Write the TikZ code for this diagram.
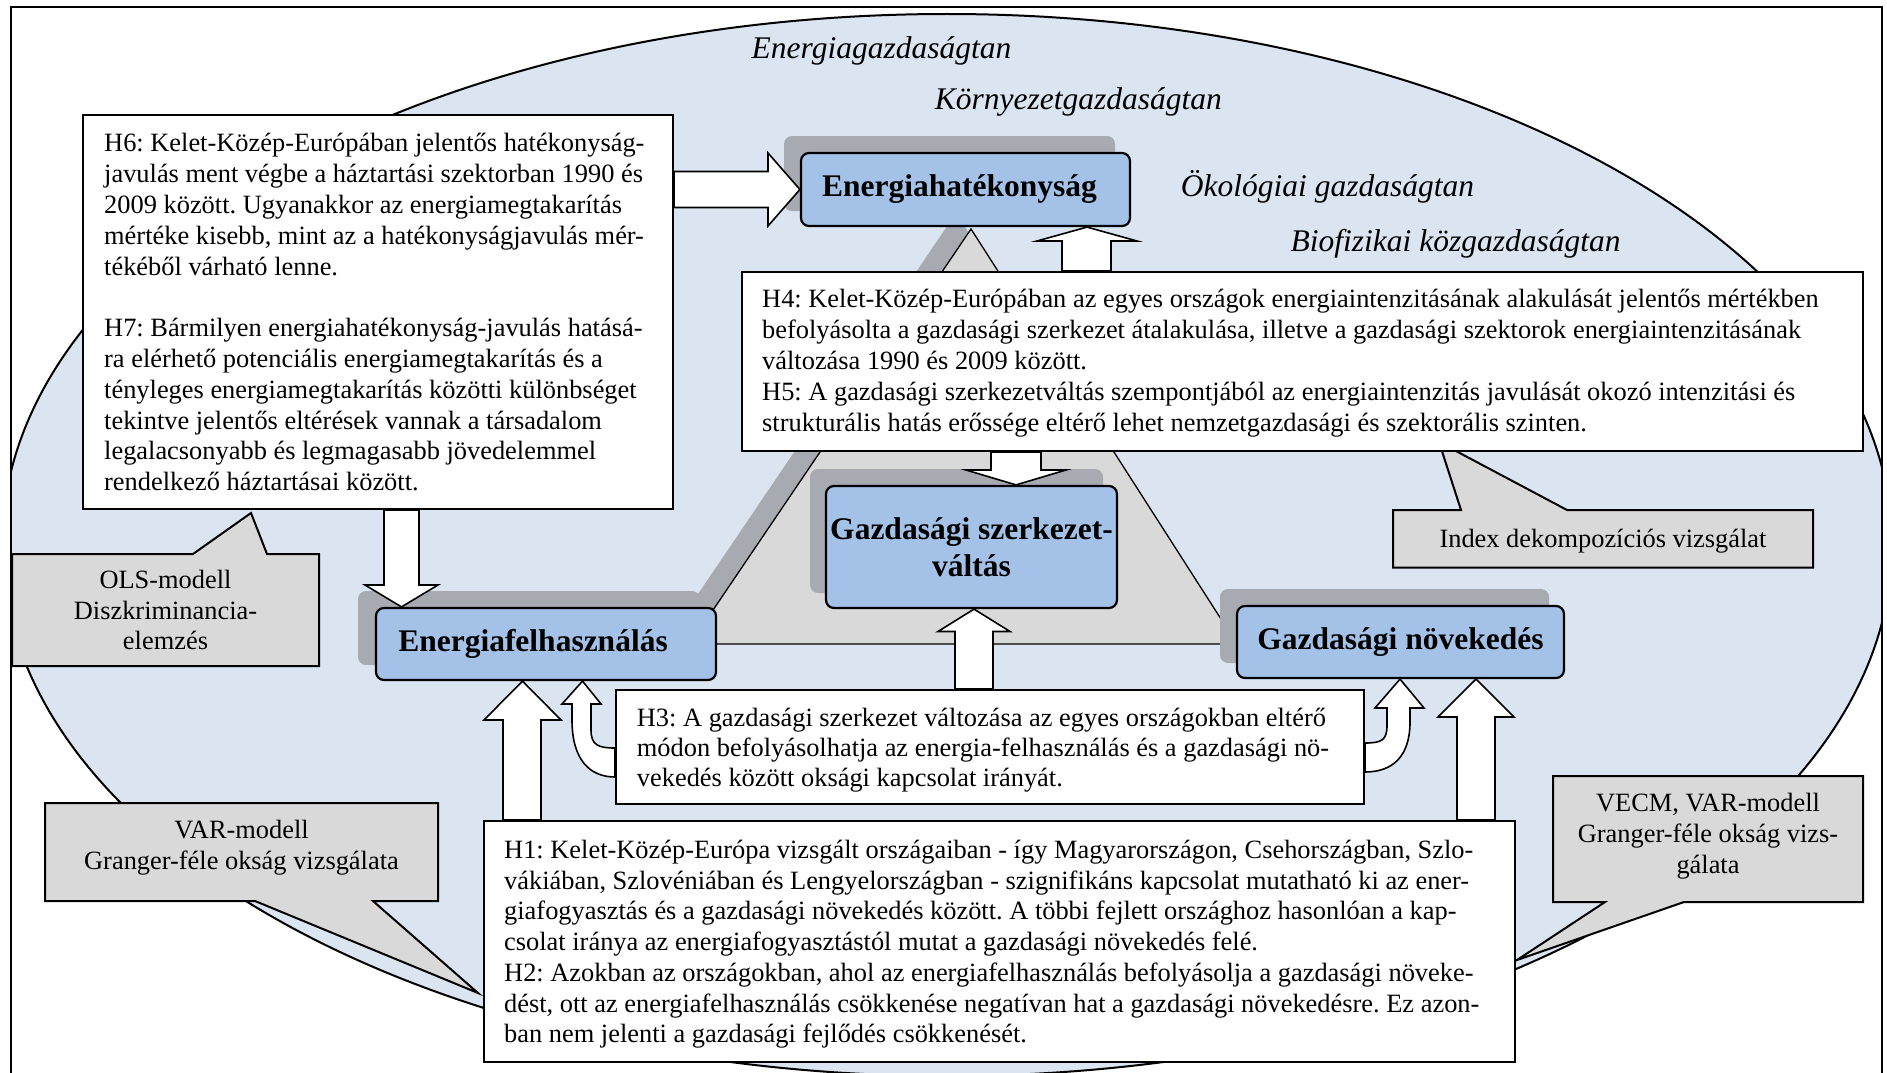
\documentclass[tikz,border=0pt]{standalone}
\usepackage{fontspec}
\setmainfont{Liberation Serif}
\usetikzlibrary{calc}
\definecolor{ellbg}{HTML}{DBE5F1}
\definecolor{boxblue}{HTML}{A4C2E8}
\definecolor{shadowgray}{HTML}{A7AAB0}
\definecolor{trigray}{HTML}{D9D9D9}
\definecolor{callgray}{HTML}{D9D9D9}
\frenchspacing

\begin{document}
\begin{tikzpicture}[x=1pt,y=-1pt]
		\tikzstyle{hypbox} = [draw, fill=white, line width=2pt, inner sep=0pt]
		\tikzstyle{hyptxt} = [anchor=north west, align=left, inner sep=0pt]
		\tikzstyle{bluebox} = [draw, fill=boxblue, line width=2.2pt, rounded corners=8pt, inner sep=0pt, align=center, font=\fontsize{31.5}{37}\selectfont\bfseries]
		\tikzstyle{shadowbox} = [fill=shadowgray, rounded corners=8pt, inner sep=0pt]
		\tikzstyle{blockarr} = [draw, fill=white, line width=1.6pt, line join=miter]
		\tikzstyle{callout} = [draw, fill=callgray, line width=2pt, line join=miter]
		\tikzstyle{calltxt} = [align=center, inner sep=0pt, font=\fontsize{26.4}{30.7}\selectfont]
		\tikzstyle{field} = [anchor=base west, inner sep=0pt, font=\fontsize{31.5}{37}\selectfont\itshape]
		\useasboundingbox (0,0) rectangle (1887,1073);

		\begin{scope}
		\clip (11,7) rectangle (1882,1080);
		\draw[fill=ellbg, line width=2pt] (947,545) ellipse [x radius=945, y radius=531];
		\end{scope}

		\node[field] (egt) at (751.5,59) {Energiagazdaságtan};
		\node[field] (kgt) at (934.7,110) {Környezetgazdaságtan};
		\node[field] (okgt) at (1180.7,196) {Ökológiai gazdaságtan};
		\node[field] (bkgt) at (1290.5,251) {Biofizikai közgazdaságtan};

		\fill[shadowgray] (956,213) -- (675,628) -- (1222,628) -- cycle;
		\draw[fill=trigray, line width=1.3pt] (971,229) -- (690,644) -- (1237,644) -- cycle;

		% callouts
		\draw[callout] (12,554) -- (193,554) -- (251,513) -- (267,554) -- (319,554) -- (319,666) -- (12,666) -- cycle;
		\node[calltxt] (ols) at (165.5,610) {OLS-modell\\Diszkriminancia-\\elemzés};
		\draw[callout] (45,803) -- (438,803) -- (438,901) -- (373,901) -- (478,993) -- (255,901) -- (45,901) -- cycle;
		\node[calltxt] (var) at (241.5,848) {VAR-modell\\Granger-féle okság vizsgálata};
		\draw[callout] (1553,776) -- (1863,776) -- (1863,902) -- (1684,902) -- (1517,960) -- (1605,902) -- (1553,902) -- cycle;
		\node[calltxt] (vecm) at (1708,836) {VECM, VAR-modell\\Granger-féle okság vizs-\\gálata};
		\draw[callout] (1393,510) -- (1461,510) -- (1439,442) -- (1567,510) -- (1813,510) -- (1813,567.6) -- (1393,567.6) -- cycle;
		\node[calltxt] (idx) at (1603,541) {Index dekompozíciós vizsgálat};

		\node[shadowbox, minimum width=331pt, minimum height=75pt] at (949.5,173.5) {};
		\node[shadowbox, minimum width=293pt, minimum height=124pt] at (956.5,531) {};
		\node[shadowbox, minimum width=342pt, minimum height=74pt] at (529,628) {};
		\node[shadowbox, minimum width=329pt, minimum height=74pt] at (1384.5,626) {};
		\node[bluebox, minimum width=329pt, minimum height=73pt] (ehat) at (965.5,189.5) {Energiahatékonyság\hspace*{12pt}};
		\node[bluebox, minimum width=291pt, minimum height=122pt] (szerk) at (971.5,547) {Gazdasági szerkezet-\\váltás};
		\node[bluebox, minimum width=340pt, minimum height=72pt] (efel) at (546,644) {Energiafelhasználás\hspace*{26pt}};
		\node[bluebox, minimum width=327pt, minimum height=72pt] (gnov) at (1400.5,642) {Gazdasági növekedés};

		\node[hypbox, minimum width=590pt, minimum height=394pt] (h6) at (378,312) {};
		\node[hyptxt, font=\fontsize{26.4}{30.8}\selectfont] (h6txt) at (104,130.1) {\strut H6: Kelet-Közép-Európában jelentős hatékonyság-\\javulás ment végbe a háztartási szektorban 1990 és\\2009 között. Ugyanakkor az energiamegtakarítás\\mértéke kisebb, mint az a hatékonyságjavulás mér-\\tékéből várható lenne.\\\mbox{}\\H7: Bármilyen energiahatékonyság-javulás hatásá-\\ra elérhető potenciális energiamegtakarítás és a\\tényleges energiamegtakarítás közötti különbséget\\tekintve jelentős eltérések vannak a társadalom\\legalacsonyabb és legmagasabb jövedelemmel\\rendelkező háztartásai között.};
		\node[hypbox, minimum width=1121pt, minimum height=179pt] (h4) at (1302.5,361.5) {};
		\node[hyptxt, font=\fontsize{26.4}{31}\selectfont] (h4txt) at (762,285.6) {\strut H4: Kelet-Közép-Európában az egyes országok energiaintenzitásának alakulását jelentős mértékben\\befolyásolta a gazdasági szerkezet átalakulása, illetve a gazdasági szektorok energiaintenzitásának\\változása 1990 és 2009 között.\\H5: A gazdasági szerkezetváltás szempontjából az energiaintenzitás javulását okozó intenzitási és\\strukturális hatás erőssége eltérő lehet nemzetgazdasági és szektorális szinten.};
		\node[hypbox, minimum width=748pt, minimum height=114pt] (h3) at (990,747) {};
		\node[hyptxt, font=\fontsize{26.4}{30}\selectfont] (h3txt) at (636.7,705.2) {\strut H3: A gazdasági szerkezet változása az egyes országokban eltérő\\módon befolyásolhatja az energia-felhasználás és a gazdasági nö-\\vekedés között oksági kapcsolat irányát.};
		\node[hypbox, minimum width=1031pt, minimum height=241pt] (h1) at (999.5,941.5) {};
		\node[hyptxt, font=\fontsize{26.4}{30.7}\selectfont] (h1txt) at (504,836.8) {\strut H1: Kelet-Közép-Európa vizsgált országaiban - így Magyarországon, Csehországban, Szlo-\\vákiában, Szlovéniában és Lengyelországban - szignifikáns kapcsolat mutatható ki az ener-\\giafogyasztás és a gazdasági növekedés között. A többi fejlett országhoz hasonlóan a kap-\\csolat iránya az energiafogyasztástól mutat a gazdasági növekedés felé.\\H2: Azokban az országokban, ahol az energiafelhasználás befolyásolja a gazdasági növeke-\\dést, ott az energiafelhasználás csökkenése negatívan hat a gazdasági növekedésre. Ez azon-\\ban nem jelenti a gazdasági fejlődés csökkenését.};

		% block arrows
		\draw[blockarr] (h6.east |- 0,171.5) -- (768,171.5) -- (768,153) -- (ehat.west) -- (768,226) -- (768,207.5) -- (h6.east |- 0,207.5) -- cycle;
		\draw[blockarr] (1062,0 |- h4.north) -- (1062,241) -- (1037,241) -- (1087,0 |- ehat.south) -- (1137,241) -- (1111,241) -- (1111,0 |- h4.north) -- cycle;
		\draw[blockarr] (991,0 |- h4.south) -- (991,470) -- (966,470) -- (1016,0 |- szerk.north) -- (1066,470) -- (1041,470) -- (1041,0 |- h4.south) -- cycle;
		\draw[blockarr] (384,0 |- h6.south) -- (384,585) -- (365,585) -- (401.5,0 |- efel.north) -- (438,585) -- (419,585) -- (419,0 |- h6.south) -- cycle;
		\draw[blockarr] (503,0 |- h1.north) -- (503,720) -- (484,720) -- (522.5,0 |- efel.south) -- (561,720) -- (541,720) -- (541,0 |- h1.north) -- cycle;
		\draw[blockarr] (955,0 |- h3.north) -- (955,631.5) -- (938,631.5) -- (974,0 |- szerk.south) -- (1010,631.5) -- (993,631.5) -- (993,0 |- h3.north) -- cycle;
		\draw[blockarr] (1457,0 |- h1.north) -- (1457,717) -- (1438,717) -- (1476,0 |- gnov.south) -- (1514,717) -- (1495,717) -- (1495,0 |- h1.north) -- cycle;
		\draw[blockarr] (h3.west |- 0,748) .. controls (598,748) and (591,745) .. (591,730) -- (591,704) -- (601,704) -- (582.5,0 |- efel.south) -- (562,704) -- (572,704) -- (572,720) .. controls (572,760) and (590,777) .. (h3.west |- 0,777) -- cycle;
		\draw[blockarr] (h3.east |- 0,743) .. controls (1382,743) and (1387,740) .. (1387,725) -- (1387,708) -- (1375,708) -- (1400,0 |- gnov.south) -- (1424,708) -- (1410,708) -- (1410,722) .. controls (1410,757) and (1392,772) .. (h3.east |- 0,772) -- cycle;

		\draw[line width=2pt] (11,7) rectangle (1882,1080);
\end{tikzpicture}
\end{document}
